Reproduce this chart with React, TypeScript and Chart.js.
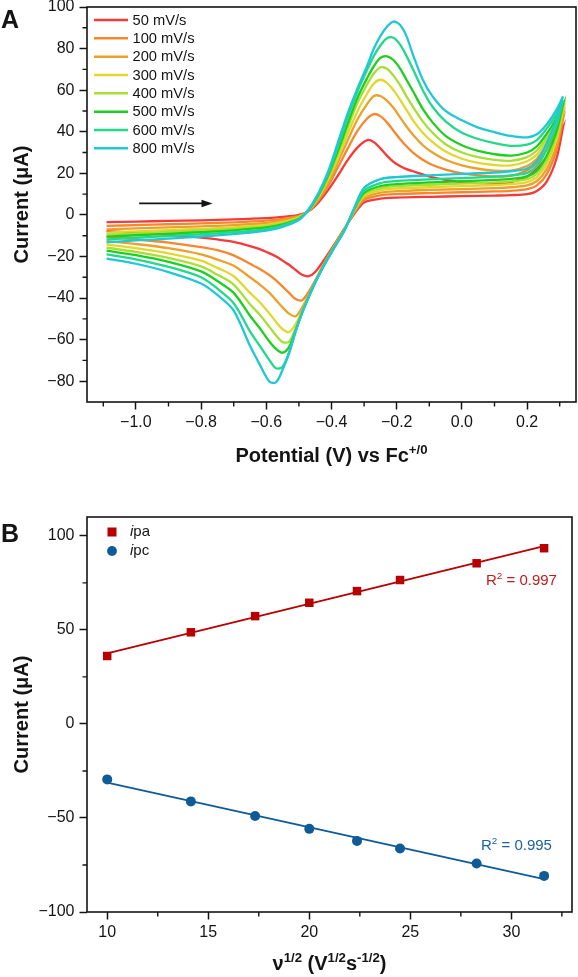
import React, { useEffect, useRef } from 'react';
import { Chart, registerables } from 'chart.js';

Chart.register(...registerables);

const FONT = '"Liberation Sans", Arial, Helvetica, sans-serif';
const INK = '#141414';

// ---------------- Panel A : cyclic voltammograms ----------------
const SCAN_RATES = ['50 mV/s', '100 mV/s', '200 mV/s', '300 mV/s', '400 mV/s', '500 mV/s', '600 mV/s', '800 mV/s'];
const CV_COLORS = ['#f43a3a', '#f7862e', '#eaa22a', '#e3d62e', '#a8df34', '#1fcf1f', '#22d88a', '#22c7d6'];

// forward (anodic) sweep potentials, V vs Fc+/0
const FWD_E = [-1.09, -1.0, -0.9, -0.8, -0.7, -0.6, -0.55, -0.5, -0.47, -0.44, -0.41, -0.38, -0.35, -0.32, -0.29, -0.27, -0.25, -0.23, -0.21, -0.19, -0.17, -0.15, -0.12, -0.09, -0.05, 0.0, 0.05, 0.1, 0.15, 0.2, 0.23, 0.26, 0.29, 0.31];
// reverse (cathodic) sweep potentials
const REV_E = [0.31, 0.29, 0.26, 0.23, 0.2, 0.15, 0.1, 0.0, -0.1, -0.2, -0.25, -0.3, -0.33, -0.36, -0.39, -0.42, -0.45, -0.47, -0.49, -0.51, -0.53, -0.55, -0.57, -0.59, -0.62, -0.65, -0.7, -0.75, -0.8, -0.9, -1.0, -1.09];

// currents (uA) on the forward sweep
const FWD_50 = [-3.5, -3.2, -2.9, -2.6, -2.2, -1.6, -1.0, 0.0, 1.8, 6, 12, 19, 26.5, 32.5, 36, 35, 32, 28.5, 25.5, 23.5, 22, 21, 19.5, 18, 16.8, 15.8, 15.3, 15.2, 15.8, 18.5, 22, 28, 35.5, 42];
const FWD_100 = [-5.3, -4.9, -4.5, -4.1, -3.6, -2.8, -1.9, -0.4, 1.9, 7, 14, 23, 32, 40.5, 46.5, 48.5, 47.5, 44.5, 40.5, 36.5, 33, 30, 26.5, 24, 21.8, 20, 19, 18.5, 18.8, 21.5, 25, 31.5, 39.5, 46];
const FWD_200 = [-7, -6.5, -6, -5.5, -4.9, -3.9, -2.8, -0.8, 2.0, 7.8, 15.5, 25.5, 36, 46, 53.5, 57.2, 57.2, 55, 51.5, 47, 42.5, 38.5, 33.5, 30, 26.5, 23.8, 22.2, 21.3, 21.3, 23.5, 27, 33.5, 41.5, 48];
const FWD_300 = [-8.5, -7.9, -7.3, -6.7, -6, -4.8, -3.5, -1.2, 2.1, 8.5, 17, 27.5, 39, 50, 58.5, 63.2, 65, 63.5, 60, 55.5, 50.5, 45.5, 39.5, 35, 30.5, 27, 25, 24, 23.8, 25.8, 29, 35.5, 43.5, 50];
const FWD_400 = [-9.5, -8.9, -8.2, -7.5, -6.7, -5.4, -4, -1.5, 2.2, 9, 18, 29.5, 42, 54, 63, 68, 71, 70.3, 67, 62.5, 57, 52, 45, 39.5, 34, 30, 27.8, 26.5, 26, 27.8, 31, 37, 45, 51.5];
const FWD_500 = [-10.5, -9.8, -9.1, -8.3, -7.4, -6, -4.5, -1.8, 2.3, 9.5, 19, 31, 44, 56.5, 66, 71.5, 75.5, 76.3, 74.5, 70.5, 65, 59.5, 51, 44.5, 38, 33.5, 30.8, 29.2, 28.5, 30, 33, 39, 46.5, 53];
const FWD_600 = [-11.8, -11, -10.2, -9.3, -8.3, -6.8, -5.1, -2.1, 2.5, 10, 20, 33, 47, 59.5, 70, 76.5, 81.5, 85, 85.2, 82, 76.5, 70, 60, 52, 45, 39.5, 36.5, 34.5, 33.2, 33.8, 36, 41.5, 48.5, 55];
const FWD_800 = [-13.2, -12.3, -11.4, -10.4, -9.3, -7.6, -5.8, -2.5, 2.7, 10.5, 21, 35, 49, 61, 72, 80, 86, 90.5, 93, 91.5, 86, 77, 65, 57, 50, 45.5, 42, 39.8, 38, 37.3, 38.8, 43.5, 50.5, 57];

// currents (uA) on the reverse sweep
const REV_50 = [42, 27, 16, 11.5, 10, 9.5, 9.3, 9, 8.7, 8.3, 7.8, 6, 0.5, -6.5, -14, -21, -27.5, -29.5, -28.8, -26.5, -24, -22, -20, -18.5, -16.5, -15, -13, -11.8, -10.9, -9.6, -8.6, -7.8];
const REV_100 = [46, 31, 19.5, 14.2, 12.4, 11.6, 11.3, 10.9, 10.5, 10, 9.4, 7.2, 1.2, -6.7, -14.5, -22.5, -31.5, -37, -41, -40.5, -37.5, -34.5, -31.5, -29, -26, -23.5, -19.5, -17, -15.5, -13.3, -11.8, -10.5];
const REV_200 = [48, 33.5, 22, 16.3, 14.2, 13.3, 12.9, 12.4, 12, 11.4, 10.7, 8.2, 1.7, -6.9, -14.8, -22.8, -32, -38.5, -44.5, -48.8, -47.5, -44.5, -41, -37.5, -33.5, -30, -24.5, -21.5, -19, -16, -14, -12.5];
const REV_300 = [50, 36, 24.5, 18.2, 15.8, 14.8, 14.3, 13.8, 13.3, 12.7, 11.9, 9.1, 2.1, -7.0, -15, -23, -32.5, -39, -46, -52.5, -56.3, -55, -51.5, -47.5, -42, -37.5, -29.5, -25.5, -22, -18.5, -16, -14.3];
const REV_400 = [51.5, 38, 26.5, 19.8, 17.2, 16.1, 15.6, 15, 14.5, 13.8, 12.9, 9.9, 2.5, -7.1, -15.1, -23.2, -32.5, -39.5, -46.5, -54.5, -61, -61.2, -58, -54, -48, -43, -33.5, -28.8, -24.8, -20.7, -17.8, -15.8];
const REV_500 = [53, 40, 28.5, 21.3, 18.5, 17.3, 16.8, 16.2, 15.6, 14.8, 13.9, 10.6, 2.8, -7.2, -15.2, -23.3, -32.5, -39.5, -47, -55.5, -63.5, -66.3, -64.5, -61, -54.5, -48.5, -37.5, -31.8, -27.2, -22.6, -19.4, -17.2];
const REV_600 = [55, 43, 31.5, 23.5, 20.2, 19, 18.4, 17.7, 17.1, 16.3, 15.3, 11.6, 3.1, -7.3, -15.3, -23.4, -32.5, -39.5, -47, -56, -66, -73, -73.8, -70, -63, -56, -42.5, -35.5, -30, -25, -21.4, -19];
const REV_800 = [57, 46, 34.5, 26, 22.3, 21, 20.4, 19.7, 19, 18.2, 17.2, 13, 3.5, -7.5, -15.5, -23.5, -32.5, -39.5, -47, -56, -66.5, -74.5, -80.5, -80.3, -72, -63, -46, -38.5, -33, -27.5, -23.5, -21];

const FWD_CURRENTS = [FWD_50, FWD_100, FWD_200, FWD_300, FWD_400, FWD_500, FWD_600, FWD_800];
const REV_CURRENTS = [REV_50, REV_100, REV_200, REV_300, REV_400, REV_500, REV_600, REV_800];

const A_X_TICKS = [-1.0, -0.8, -0.6, -0.4, -0.2, 0.0, 0.2];
const A_X_MINOR = [-1.1, -0.9, -0.7, -0.5, -0.3, -0.1, 0.1, 0.3];
const A_Y_TICKS = [-80, -60, -40, -20, 0, 20, 40, 60, 80, 100];
const A_Y_MINOR = [-70, -50, -30, -10, 10, 30, 50, 70, 90];
const ARROW_E = [-0.99, -0.765];
const ARROW_I = 5.5;

// ---------------- Panel B : Randles–Sevcik plot ----------------
const SQRT_SCAN = [10, 14.14, 17.32, 20, 22.36, 24.49, 28.28, 31.62];
const IPA = [36.1, 48.7, 57.3, 64.4, 70.6, 76.5, 85.4, 93.4];
const IPC = [-29.5, -41.2, -49, -55.8, -62.2, -66.2, -74.2, -80.8];
const R2_IPA = '0.997';
const R2_IPC = '0.995';
const B_X_TICKS = [10, 15, 20, 25, 30];
const B_X_MINOR = [12.5, 17.5, 22.5, 27.5, 32.5];
const B_Y_TICKS = [-100, -50, 0, 50, 100];
const B_Y_MINOR = [-75, -25, 25, 75];

const RED = '#b80000';
const BLUE = '#0e5b98';

const fmt = (v: number, d: number) => (v < -1e-9 ? '\u2212' : '') + Math.abs(v).toFixed(d);

function fitLine(xs: number[], ys: number[]) {
  const n = xs.length;
  const mx = xs.reduce((a, b) => a + b, 0) / n;
  const my = ys.reduce((a, b) => a + b, 0) / n;
  let sxy = 0, sxx = 0;
  for (let i = 0; i < n; i++) { sxy += (xs[i] - mx) * (ys[i] - my); sxx += (xs[i] - mx) ** 2; }
  const k = sxy / sxx;
  const b = my - k * mx;
  return [{ x: xs[0], y: k * xs[0] + b }, { x: xs[n - 1], y: k * xs[n - 1] + b }];
}

type Seg = [string, boolean];
function drawRich(ctx: CanvasRenderingContext2D, segs: Seg[], x: number, y: number, size: number, color: string, bold = true, align = 'center') {
  const sup = size * 0.66;
  const w = bold ? 'bold ' : '';
  let total = 0;
  const parts = segs.map(([t, s]) => {
    ctx.font = `${w}${s ? sup : size}px ${FONT}`;
    const m = ctx.measureText(t).width;
    total += m;
    return { t, s, m };
  });
  let cx = align === 'center' ? x - total / 2 : x;
  ctx.fillStyle = color;
  ctx.textAlign = 'left';
  ctx.textBaseline = 'alphabetic';
  for (const p of parts) {
    ctx.font = `${w}${p.s ? sup : size}px ${FONT}`;
    ctx.fillText(p.t, cx, p.s ? y - size * 0.4 : y);
    cx += p.m;
  }
}

function drawFrame(chart: any, xMinor: number[], yMinor: number[]) {
  const { ctx, chartArea: a, scales } = chart;
  ctx.save();
  ctx.strokeStyle = INK;
  ctx.lineWidth = 1.6;
  ctx.strokeRect(a.left, a.top, a.right - a.left, a.bottom - a.top);
  ctx.lineWidth = 1.4;
  ctx.beginPath();
  for (const v of xMinor) {
    const px = scales.x.getPixelForValue(v);
    ctx.moveTo(px, a.bottom);
    ctx.lineTo(px, a.bottom + 4.5);
  }
  for (const v of yMinor) {
    const py = scales.y.getPixelForValue(v);
    ctx.moveTo(a.left, py);
    ctx.lineTo(a.left - 4.5, py);
  }
  ctx.stroke();
  ctx.restore();
}

function drawYTitle(ctx: CanvasRenderingContext2D, a: any, x: number) {
  ctx.save();
  ctx.translate(x, (a.top + a.bottom) / 2);
  ctx.rotate(-Math.PI / 2);
  ctx.font = `bold 20px ${FONT}`;
  ctx.fillStyle = INK;
  ctx.textAlign = 'center';
  ctx.textBaseline = 'middle';
  ctx.fillText('Current (\u03bcA)', 0, 0);
  ctx.restore();
}

function axisOptions(min: number, max: number, ticks: number[], digits: number, size: number, isX: boolean) {
  return {
    type: 'linear',
    min,
    max,
    afterBuildTicks: (s: any) => { s.ticks = ticks.map((v) => ({ value: v })); },
    afterFit: (s: any) => {
      if (isX) s.height = size; else s.width = size;
      s.paddingTop = 0; s.paddingBottom = 0; s.paddingLeft = 0; s.paddingRight = 0;
    },
    ticks: {
      callback: (v: number) => fmt(v, digits),
      font: { family: FONT, size: 16 },
      color: INK,
      padding: isX ? 3 : 5,
      autoSkip: false,
      maxRotation: 0,
    },
    grid: { display: true, drawOnChartArea: false, drawTicks: true, tickLength: 7.5, tickWidth: 1.5, tickColor: INK },
    border: { display: false },
  };
}

const cvPlugin = {
  id: 'cvDecor',
  afterDraw(chart: any) {
    const { ctx, chartArea: a, scales } = chart;
    drawFrame(chart, A_X_MINOR, A_Y_MINOR);
    ctx.save();
    // legend
    ctx.font = `14.7px ${FONT}`;
    ctx.textBaseline = 'middle';
    ctx.textAlign = 'left';
    SCAN_RATES.forEach((label, k) => {
      const y = 20 + k * 18.33;
      ctx.strokeStyle = CV_COLORS[k];
      ctx.lineWidth = 2.5;
      ctx.beginPath();
      ctx.moveTo(94, y);
      ctx.lineTo(128, y);
      ctx.stroke();
      ctx.fillStyle = INK;
      ctx.fillText(label, 132.5, y + 0.5);
    });
    // sweep-direction arrow
    const x0 = scales.x.getPixelForValue(ARROW_E[0]);
    const x1 = scales.x.getPixelForValue(ARROW_E[1]);
    const ya = scales.y.getPixelForValue(ARROW_I);
    ctx.strokeStyle = INK;
    ctx.fillStyle = INK;
    ctx.lineWidth = 1.8;
    ctx.beginPath();
    ctx.moveTo(x0, ya);
    ctx.lineTo(x1 - 8, ya);
    ctx.stroke();
    ctx.beginPath();
    ctx.moveTo(x1, ya);
    ctx.lineTo(x1 - 11, ya - 3.8);
    ctx.lineTo(x1 - 11, ya + 3.8);
    ctx.closePath();
    ctx.fill();
    // titles
    drawYTitle(ctx, a, 22);
    drawRich(ctx, [['Potential (V) vs Fc', false], ['+/0', true]], (a.left + a.right) / 2, 462, 20, INK);
    ctx.font = `bold 25px ${FONT}`;
    ctx.fillStyle = INK;
    ctx.textAlign = 'left';
    ctx.textBaseline = 'middle';
    ctx.fillText('A', 1, 21);
    ctx.restore();
  },
};

const rsPlugin = {
  id: 'rsDecor',
  afterDraw(chart: any) {
    const { ctx, chartArea: a } = chart;
    drawFrame(chart, B_X_MINOR, B_Y_MINOR);
    ctx.save();
    // legend
    ctx.fillStyle = RED;
    ctx.fillRect(112 - 4.5, 52 - 4.5, 9, 9);
    ctx.fillStyle = BLUE;
    ctx.beginPath();
    ctx.arc(112, 71, 4.9, 0, Math.PI * 2);
    ctx.fill();
    const legendText = (y: number, rest: string) => {
      ctx.fillStyle = INK;
      ctx.textBaseline = 'middle';
      ctx.textAlign = 'left';
      ctx.font = `italic 15px ${FONT}`;
      ctx.fillText('i', 130, y);
      const w = ctx.measureText('i').width;
      ctx.font = `15px ${FONT}`;
      ctx.fillText(rest, 130 + w, y);
    };
    legendText(52, 'pa');
    legendText(71, 'pc');
    // R^2 labels
    drawRich(ctx, [['R', false], ['2', true], [' = ' + R2_IPA, false]], 486, 104.5, 15, '#c21b1b', false, 'left');
    drawRich(ctx, [['R', false], ['2', true], [' = ' + R2_IPC, false]], 481, 369.5, 15, '#1b62a0', false, 'left');
    // titles
    drawYTitle(ctx, a, 22);
    drawRich(ctx, [['\u03bd', false], ['1/2', true], [' (V', false], ['1/2', true], ['s', false], ['-1/2', true], [')', false]], (a.left + a.right) / 2, 490, 20, INK);
    ctx.font = `bold 25px ${FONT}`;
    ctx.fillStyle = INK;
    ctx.textAlign = 'left';
    ctx.textBaseline = 'middle';
    ctx.fillText('B', 1, 55);
    ctx.restore();
  },
};

export default function App() {
  const refA = useRef<HTMLCanvasElement>(null);
  const refB = useRef<HTMLCanvasElement>(null);

  useEffect(() => {
    const cvSets = SCAN_RATES.map((label, k) => ({
      label,
      data: [
        ...FWD_E.map((e, i) => ({ x: e, y: FWD_CURRENTS[k][i] })),
        ...REV_E.map((e, i) => ({ x: e, y: REV_CURRENTS[k][i] })),
      ],
      borderColor: CV_COLORS[k],
      backgroundColor: CV_COLORS[k],
      borderWidth: 2.3,
      pointRadius: 0,
      tension: 0.3,
      fill: false,
      order: SCAN_RATES.length - k,
    }));

    const chartA = new Chart(refA.current as HTMLCanvasElement, {
      type: 'line',
      data: { datasets: cvSets as any },
      options: {
        responsive: false,
        animation: false,
        layout: { padding: { left: 0, top: 7, right: 2, bottom: 0 } },
        plugins: { legend: { display: false }, tooltip: { enabled: false } },
        scales: {
          x: axisOptions(-1.15, 0.35, A_X_TICKS, 1, 78, true) as any,
          y: axisOptions(-90, 100, A_Y_TICKS, 0, 87, false) as any,
        },
      },
      plugins: [cvPlugin],
    });

    const chartB = new Chart(refB.current as HTMLCanvasElement, {
      type: 'line',
      data: {
        datasets: [
          {
            label: 'ipa',
            data: SQRT_SCAN.map((x, i) => ({ x, y: IPA[i] })),
            showLine: false,
            pointStyle: 'rect',
            pointRadius: 6,
            backgroundColor: RED,
            borderColor: RED,
            borderWidth: 0,
          },
          {
            label: 'ipc',
            data: SQRT_SCAN.map((x, i) => ({ x, y: IPC[i] })),
            showLine: false,
            pointStyle: 'circle',
            pointRadius: 5,
            backgroundColor: BLUE,
            borderColor: BLUE,
            borderWidth: 0,
          },
          {
            label: 'ipa fit',
            data: fitLine(SQRT_SCAN, IPA),
            borderColor: RED,
            borderWidth: 1.8,
            pointRadius: 0,
          },
          {
            label: 'ipc fit',
            data: fitLine(SQRT_SCAN, IPC),
            borderColor: BLUE,
            borderWidth: 1.8,
            pointRadius: 0,
          },
        ] as any,
      },
      options: {
        responsive: false,
        animation: false,
        layout: { padding: { left: 0, top: 37, right: 2, bottom: 0 } },
        plugins: { legend: { display: false }, tooltip: { enabled: false } },
        scales: {
          x: axisOptions(9, 33, B_X_TICKS, 0, 65, true) as any,
          y: axisOptions(-100, 110, B_Y_TICKS, 0, 87, false) as any,
        },
      },
      plugins: [rsPlugin],
    });

    return () => {
      chartA.destroy();
      chartB.destroy();
    };
  }, []);

  return (
    <div style={{ position: 'absolute', left: 0, top: 0, width: 578, height: 977, background: '#fff' }}>
      <canvas ref={refA} width={578} height={480} style={{ position: 'absolute', left: 0, top: 0 }} />
      <canvas ref={refB} width={578} height={497} style={{ position: 'absolute', left: 0, top: 480 }} />
    </div>
  );
}
